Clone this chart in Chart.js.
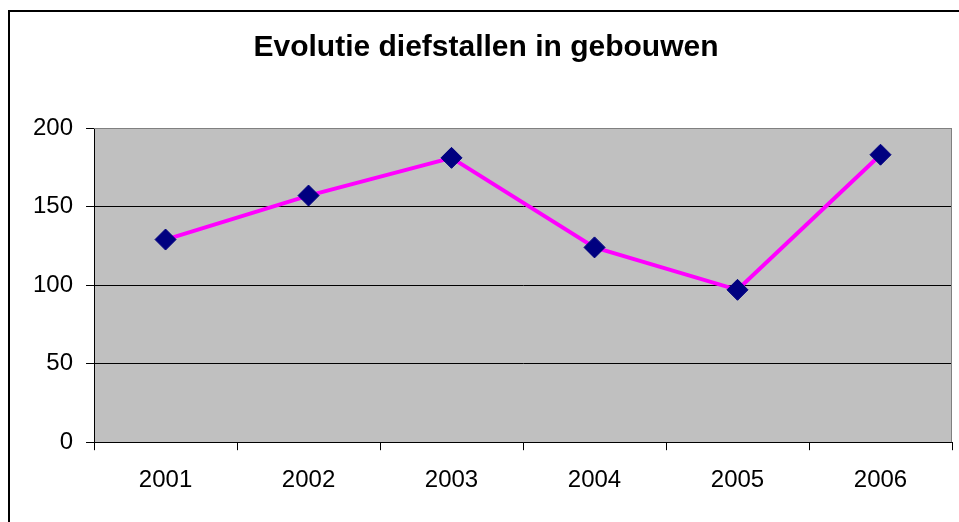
<!DOCTYPE html>
<html>
<head>
<meta charset="utf-8">
<script src="https://cdn.jsdelivr.net/npm/chart.js@4"></script>
<style>
  html, body { margin: 0; padding: 0; background: #fff; }
  #wrap { width: 959px; height: 522px; }
</style>
</head>
<body>
<div id="wrap"><canvas id="chart"></canvas></div>
<script>
const years = ['2001', '2002', '2003', '2004', '2005', '2006'];
const thefts = [129, 157, 181, 124, 97, 183];
const yTicks = [0, 50, 100, 150, 200];

// gray plot area, gray top/right edge and the outer frame
const frame = {
    id: 'frame',
    beforeDraw: (chart) => {
        const { ctx, chartArea: a } = chart;
        ctx.save();
        ctx.fillStyle = '#c0c0c0';
        ctx.fillRect(a.left, a.top, a.right - a.left, a.bottom - a.top);
        ctx.strokeStyle = '#000';
        ctx.lineWidth = 2;
        ctx.strokeRect(9, 11, 1000, 1000);
        ctx.restore();
    },
    beforeDatasetsDraw: (chart) => {
        const { ctx, chartArea: a } = chart;
        ctx.save();
        ctx.strokeStyle = '#808080';
        ctx.lineWidth = 1;
        ctx.beginPath();
        ctx.moveTo(a.left, a.top + 0.5);
        ctx.lineTo(a.right - 0.5, a.top + 0.5);
        ctx.lineTo(a.right - 0.5, a.bottom);
        ctx.stroke();
        ctx.restore();
    }
};

const font = { family: '"Liberation Sans", Arial, sans-serif', size: 24 };

new Chart(document.getElementById('chart'), {
    type: 'line',
    data: {
        labels: years,
        datasets: [{
            data: thefts,
            borderColor: '#ff00ff',
            borderWidth: 4,
            pointStyle: 'rectRot',
            pointRadius: 10.5,
            pointHoverRadius: 10.5,
            pointBackgroundColor: '#000080',
            pointBorderColor: '#000080',
            pointBorderWidth: 1,
            tension: 0,
        }],
    },
    options: {
        responsive: true,
        maintainAspectRatio: false,
        animation: false,
        layout: { autoPadding: false, padding: { left: 20, right: 7, top: 0, bottom: 11 } },
        plugins: {
            legend: { display: false },
            tooltip: { enabled: false },
            title: {
                display: true,
                text: 'Evolutie diefstallen in gebouwen',
                color: '#000',
                font: { family: font.family, size: 30, weight: 'bold' },
                padding: { top: 30, bottom: 62 },
            },
        },
        scales: {
            x: {
                offset: true,
                afterFit: (s) => { s.paddingLeft = 0; s.paddingRight = 0; },
                grid: {
                    offset: true,
                    drawOnChartArea: false,
                    color: '#000',
                    tickLength: 8,
                },
                border: { color: '#000', width: 1 },
                ticks: { color: '#000', font: font, padding: 16, maxRotation: 0 },
            },
            y: {
                min: 0,
                max: 200,
                afterBuildTicks: (scale) => { scale.ticks = yTicks.map(v => ({ value: v })); },
                grid: {
                    color: (c) => c.tick && c.tick.value === 200 ? '#808080' : '#000',
                    tickColor: '#000',
                    tickLength: 8,
                },
                border: { color: '#000', width: 1 },
                ticks: { color: '#000', font: font, padding: 13 },
            },
        },
    },
    plugins: [frame],
});
</script>
</body>
</html>
